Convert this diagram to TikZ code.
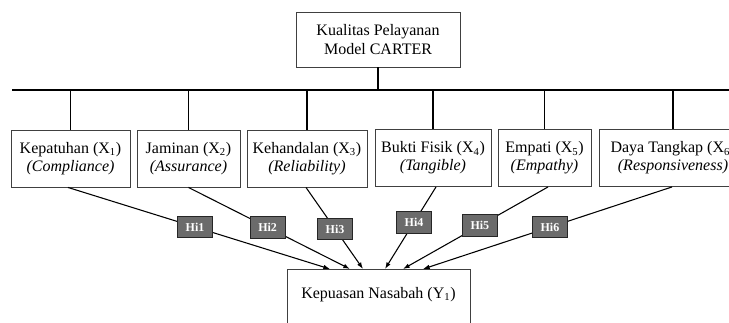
\documentclass[tikz,border=0pt]{standalone}
\usepackage{fontspec}
\setmainfont{Liberation Serif}
\usetikzlibrary{arrows.meta, positioning, calc}

\begin{document}
\begin{tikzpicture}[
    x=0.75pt, y=-0.75pt, % Work in pixels of the sketch, y downwards
    >={Latex[length=5pt, width=3.5pt]}, % Small filled arrow tips
    box/.style={draw=black!75, line width=0.7pt, align=center, inner sep=0pt,
        minimum height=42.75pt, font=\fontsize{12}{13.5}\selectfont}, % Dimension boxes
    hibox/.style={draw=black!85, fill=black!58, text=white, line width=0.6pt,
        inner sep=0pt, minimum width=26pt, minimum height=16pt,
        font=\fontsize{9}{10}\selectfont\bfseries}, % Hypothesis tags
    link/.style={->, line width=0.8pt}
]

    % Fix the page to the size of the sketch
    \useasboundingbox (0,0) rectangle (729,323);

    % Top box: the model
    \node[box, minimum width=123pt, minimum height=41.25pt,
        font=\fontsize{12}{14.5}\selectfont] (carter) at (378,39.5)
        {Kualitas Pelayanan\\Model CARTER};

    % The six dimensions of the model
    \node[box, minimum width=89.25pt] (x1) at (70.5,158.5)
        {Kepatuhan (X\textsubscript{1})\\\textit{(Compliance)}};
    \node[box, minimum width=77.25pt] (x2) at (188.5,158.5)
        {Jaminan (X\textsubscript{2})\\\textit{(Assurance)}};
    \node[box, minimum width=90pt] (x3) at (307,158.5)
        {Kehandalan (X\textsubscript{3})\\\textit{(Reliability)}};
    \node[box, minimum width=87pt] (x4) at (433,158)
        {Bukti Fisik (X\textsubscript{4})\\\textit{(Tangible)}};
    \node[box, minimum width=69.75pt] (x5) at (544.5,158)
        {Empati (X\textsubscript{5})\\\textit{(Empathy)}};
    \node[box, minimum width=111pt] (x6) at (673,158)
        {Daya Tangkap (X\textsubscript{6})\\\textit{(Responsiveness)}};

    % Bottom box: customer satisfaction, runs off the lower edge
    \node[box, anchor=north, minimum width=137.25pt, minimum height=0pt,
        text height=21.75pt, text depth=40pt] (y1) at (378.5,269)
        {Kepuasan Nasabah (Y\textsubscript{1})};

    % Tree from the model down to the dimensions
    \coordinate (busL) at (12,90);
    \coordinate (busR) at (745,90);
    \draw[line width=1pt] (busL) -- (busR);
    \draw[line width=1pt] (carter.south) -- (carter.south |- busL);
    \foreach \k in {x1,x2,x3,x4,x5,x6}
        \draw[line width=1pt] (\k.north) -- (\k.north |- busL);

    % Hypotheses: each dimension points at the bottom box
    \draw[link] ($(x1.south)+(-2.5,0)$) -- node[hibox, pos=0.485] (h1) {Hi1} ($(y1.north)+(-48.5,0)$);
    \draw[link] (x2.south) -- node[hibox, pos=0.49] (h2) {Hi2} ($(y1.north)+(-28.5,0)$);
    \draw[link] ($(x3.south)+(-1,0)$) -- node[hibox, pos=0.51] (h3) {Hi3} ($(y1.north)+(-15.5,0)$);
    \draw[link] ($(x4.south)+(3,0)$) -- node[hibox, pos=0.43] (h4) {Hi4} ($(y1.north)+(6.5,0)$);
    \draw[link] ($(x5.south)+(3.5,0)$) -- node[hibox, pos=0.47] (h5) {Hi5} ($(y1.north)+(24.5,0)$);
    \draw[link] ($(x6.south)+(-1,0)$) -- node[hibox, pos=0.49] (h6) {Hi6} ($(y1.north)+(44.5,0)$);

\end{tikzpicture}
\end{document}
